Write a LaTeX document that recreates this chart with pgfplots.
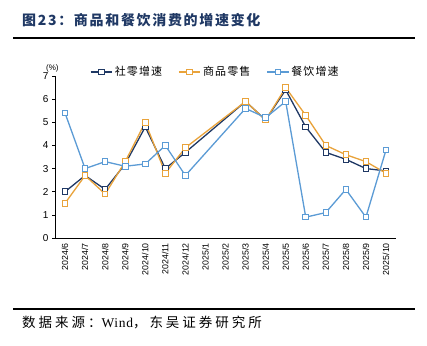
\documentclass[border=0pt]{standalone}
\usepackage{fontspec}
\setmainfont{Liberation Sans}
\newfontfamily\cjk{Noto Sans CJK SC}
\newfontfamily\cjksp[LetterSpace=22]{Noto Sans CJK SC}
\newfontfamily\cjkleg[LetterSpace=10]{Noto Sans CJK SC}
\newfontfamily\cjktit[LetterSpace=12]{Noto Sans CJK SC}
\newfontfamily\serifsp[LetterSpace=5]{Liberation Serif}
\usepackage{pgfplots}
\pgfplotsset{compat=1.18}
\definecolor{navy}{HTML}{1F3864}
\definecolor{org}{HTML}{E9A33B}
\definecolor{lblue}{HTML}{5B9BD5}
\definecolor{titlec}{HTML}{1F3864}
\begin{document}
\begin{tikzpicture}
\path[fill=white] (0pt,0pt) rectangle (427pt,345pt);
\node[anchor=west, font=\cjktit\bfseries\fontsize{14}{15}\selectfont, text=titlec, inner sep=0pt] at (22pt,325pt) {图23：商品和餐饮消费的增速变化};
\draw[line width=1.5pt] (13pt,307pt) -- (415pt,307pt);
\draw[line width=1.2pt] (13pt,36pt) -- (415pt,36pt);
\node[anchor=west, font=\cjksp\fontsize{13.5}{14}\selectfont, inner sep=0pt] at (22pt,22pt) {数据来源：{\serifsp Wind}，东吴证券研究所};
\begin{axis}[at={(55pt,107pt)}, anchor=south west, width=341pt, height=162pt, scale only axis,
  xmin=-0.5, xmax=16.5, ymin=0, ymax=7,
  axis x line*=bottom, axis y line*=left, axis line style={-, black, line width=0.6pt},
  ytick={0,...,7}, tick align=outside, major tick length=3pt,
  xtick={0,...,16}, x tick style={draw=none},
  minor xtick={-0.5,0.5,...,16.5}, minor x tick style={black, line width=0.6pt}, minor tick length=3pt,
  xticklabels={2024/6,2024/7,2024/8,2024/9,2024/10,2024/11,2024/12,2025/1,2025/2,2025/3,2025/4,2025/5,2025/6,2025/7,2025/8,2025/9,2025/10},
  xticklabel style={rotate=90, anchor=east, font=\fontsize{8.8}{9}\selectfont, inner sep=2pt},
  yticklabel style={font=\fontsize{10}{11}\selectfont},
  /pgf/number format/assume math mode=true,
  y tick style={black, line width=0.6pt},
  legend columns=3,
  legend style={at={(0.47,1.025)}, anchor=center, draw=none, fill=none, font=\cjkleg\fontsize{11}{12}\selectfont, /tikz/every even column/.append style={column sep=14pt}},
  legend image code/.code={\draw[mark repeat=2,mark phase=2] plot coordinates {(0cm,0cm)(0.38cm,0cm)(0.76cm,0cm)};},
  every axis plot/.append style={line width=1.3pt, mark=square*, mark size=2.8pt, mark options={fill=white, line width=1pt}},
  clip=false
]
\addplot[color=navy] coordinates {(0,2.0)(1,2.7)(2,2.1)(3,3.2)(4,4.8)(5,3.0)(6,3.7)(9,5.9)(10,5.1)(11,6.4)(12,4.8)(13,3.7)(14,3.4)(15,3.0)(16,2.9)};
\addlegendentry{社零增速}
\addplot[color=org] coordinates {(0,1.5)(1,2.7)(2,1.9)(3,3.3)(4,5.0)(5,2.8)(6,3.9)(9,5.9)(10,5.1)(11,6.5)(12,5.3)(13,4.0)(14,3.6)(15,3.3)(16,2.8)};
\addlegendentry{商品零售}
\addplot[color=lblue] coordinates {(0,5.4)(1,3.0)(2,3.3)(3,3.1)(4,3.2)(5,4.0)(6,2.7)(9,5.6)(10,5.2)(11,5.9)(12,0.9)(13,1.1)(14,2.1)(15,0.9)(16,3.8)};
\addlegendentry{餐饮增速}
\end{axis}
\node[anchor=west, font=\fontsize{8}{9}\selectfont, inner sep=0pt] at (46pt,277pt) {(\%)};
\end{tikzpicture}
\end{document}
